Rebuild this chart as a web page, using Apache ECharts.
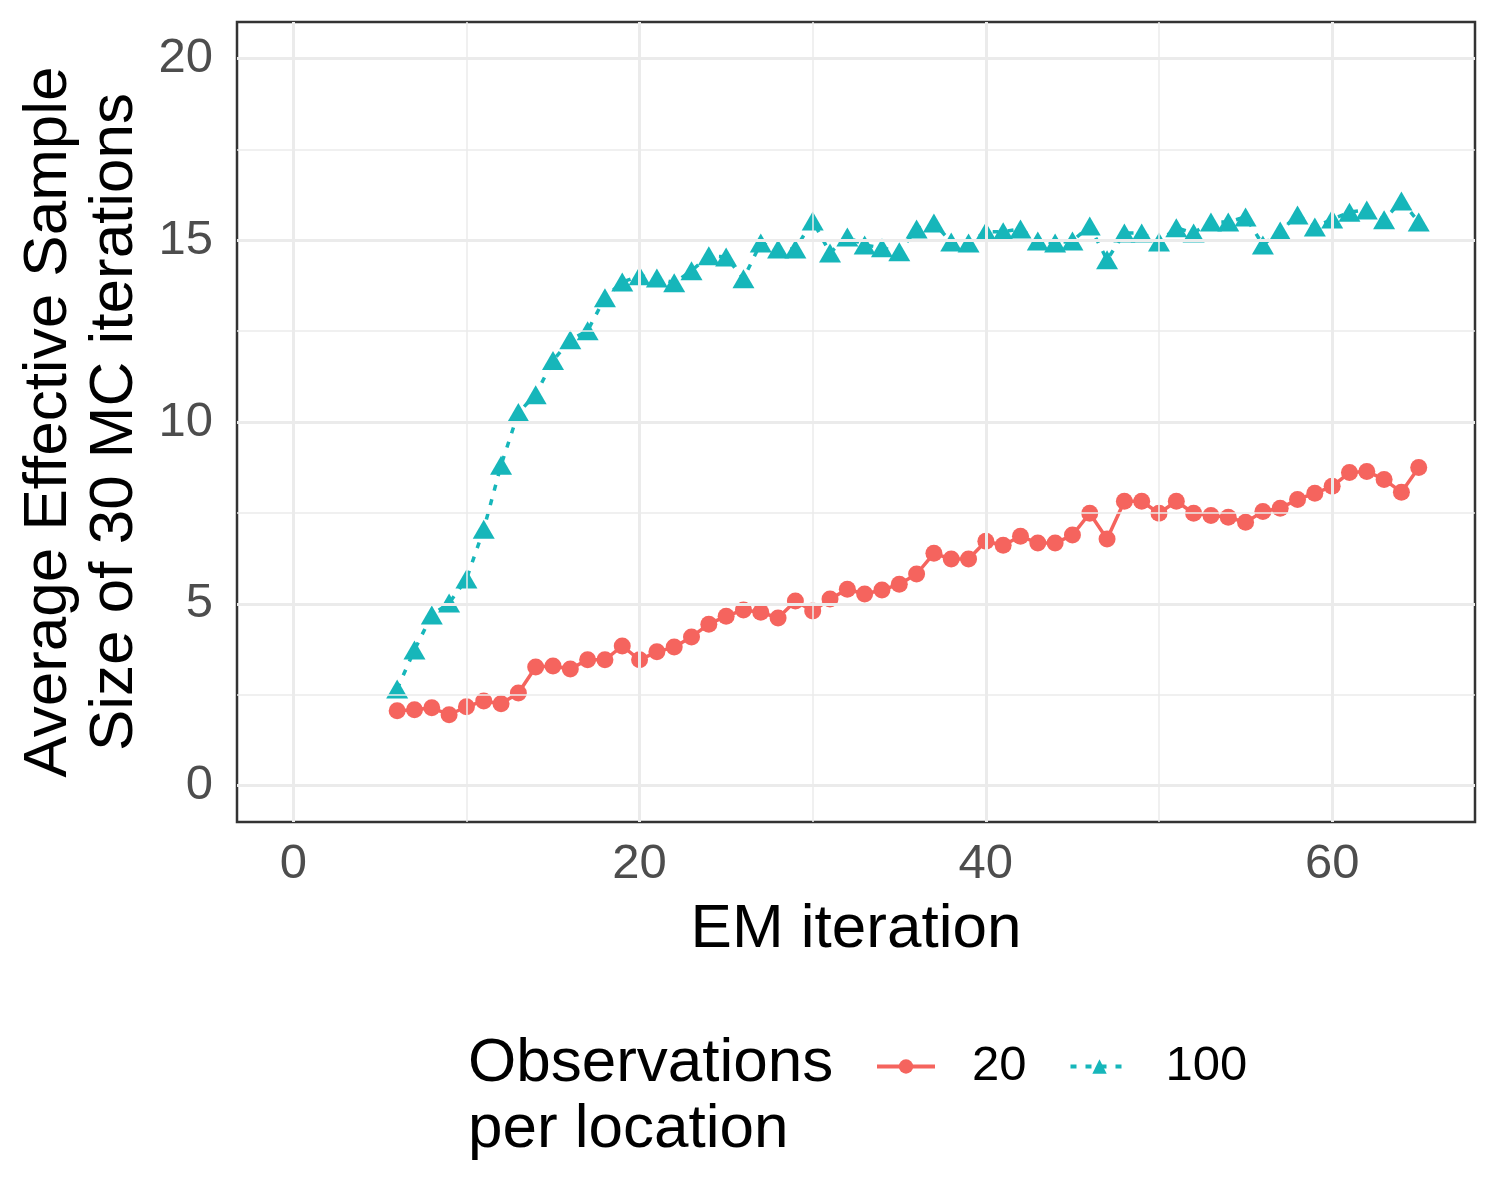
<!DOCTYPE html>
<html>
<head>
<meta charset="utf-8">
<script src="https://cdn.jsdelivr.net/npm/echarts@6/dist/echarts.min.js"></script>
<style>html,body{margin:0;padding:0;background:#fff}#c{width:1500px;height:1200px}</style>
</head>
<body>
<div id="c"></div>
<script>
const iterations = [6,7,8,9,10,11,12,13,14,15,16,17,18,19,20,21,22,23,24,25,26,27,28,29,30,31,32,33,34,35,36,37,38,39,40,41,42,43,44,45,46,47,48,49,50,51,52,53,54,55,56,57,58,59,60,61,62,63,64,65];
const obs20 = [2.06,2.09,2.14,1.95,2.17,2.33,2.25,2.55,3.26,3.29,3.21,3.46,3.46,3.84,3.46,3.68,3.81,4.09,4.44,4.66,4.83,4.77,4.61,5.08,4.80,5.13,5.40,5.27,5.38,5.54,5.82,6.39,6.23,6.23,6.72,6.61,6.86,6.67,6.67,6.89,7.49,6.78,7.82,7.82,7.49,7.82,7.49,7.43,7.38,7.24,7.54,7.63,7.87,8.04,8.23,8.61,8.64,8.42,8.07,8.75];
const obs100 = [2.66,3.73,4.69,5.02,5.68,7.05,8.81,10.26,10.75,11.69,12.26,12.51,13.42,13.85,14.02,13.96,13.83,14.16,14.57,14.54,13.94,14.92,14.76,14.76,15.53,14.65,15.09,14.87,14.79,14.68,15.31,15.47,14.95,14.92,15.23,15.23,15.31,14.98,14.92,14.98,15.39,14.46,15.20,15.20,14.95,15.34,15.20,15.50,15.50,15.64,14.87,15.25,15.69,15.36,15.58,15.77,15.83,15.56,16.08,15.50];
const xTicks = [0,20,40,60];
const xMinor = [10,30,50];
const yTicks = [0,5,10,15,20];
const yMinor = [2.5,7.5,12.5,17.5];

const font = "'Liberation Sans', Arial, sans-serif";
const red = '#F5645E', teal = '#16B6BA', gridCol = '#EBEBEB';

const gridLines = [];
xMinor.forEach(v => gridLines.push({xAxis: v, lineStyle: {color: gridCol, width: 1.5, type: 'solid'}}));
yMinor.forEach(v => gridLines.push({yAxis: v, lineStyle: {color: gridCol, width: 1.5, type: 'solid'}}));
xTicks.forEach(v => gridLines.push({xAxis: v, lineStyle: {color: gridCol, width: 3, type: 'solid'}}));
yTicks.forEach(v => gridLines.push({yAxis: v, lineStyle: {color: gridCol, width: 3, type: 'solid'}}));

const chart = echarts.init(document.getElementById('c'), null, {renderer: 'canvas'});
chart.setOption({
  animation: false,
  backgroundColor: '#fff',
  title: {
    text: 'Observations\nper location',
    left: 463, top: 1026,
    textStyle: {fontFamily: font, fontSize: 62, fontWeight: 'normal', color: '#000', lineHeight: 66}
  },
  legend: {
    left: 870, top: 1037,
    itemWidth: 58, itemHeight: 18, itemGap: 42,
    lineStyle: {width: 4},
    textStyle: {fontFamily: font, fontSize: 49, color: '#000', padding: [0, 0, 0, 32]},
    data: ['20', '100']
  },
  grid: {left: 237, right: 25, top: 22, bottom: 378, show: true, borderColor: '#333', borderWidth: 2.5, backgroundColor: 'transparent'},
  xAxis: {
    type: 'value', min: -3.25, max: 68.25,
    name: 'EM iteration', nameLocation: 'middle', nameGap: 77,
    nameTextStyle: {fontFamily: font, fontSize: 62, color: '#000'},
    axisLine: {show: false},
    axisTick: {show: true, length: 12, lineStyle: {color: '#333', width: 3}, customValues: xTicks},
    axisLabel: {customValues: xTicks, fontFamily: font, fontSize: 49, color: '#4D4D4D', margin: 18},
    splitLine: {show: false}
  },
  yAxis: {
    type: 'value', min: -1, max: 21,
    name: 'Average Effective Sample\nSize of 30 MC iterations', nameLocation: 'middle', nameGap: 87, nameRotate: 90,
    nameTextStyle: {fontFamily: font, fontSize: 62, color: '#000', lineHeight: 66},
    axisLine: {show: false},
    axisTick: {show: true, length: 12, lineStyle: {color: '#333', width: 3}, customValues: yTicks},
    axisLabel: {customValues: yTicks, fontFamily: font, fontSize: 49, color: '#4D4D4D', margin: 24},
    splitLine: {show: false}
  },
  series: [
    {
      name: 'grid', type: 'line', data: [], z: 0, silent: true,
      markLine: {silent: true, symbol: 'none', label: {show: false}, animation: false, data: gridLines}
    },
    {
      name: '20', type: 'line', z: 3,
      data: iterations.map((x, i) => [x, obs20[i]]),
      symbol: 'circle', symbolSize: 17, showSymbol: true,
      lineStyle: {color: red, width: 3.5, type: 'solid'},
      itemStyle: {color: red}
    },
    {
      name: '100', type: 'line', z: 4,
      data: iterations.map((x, i) => [x, obs100[i]]),
      symbol: 'triangle', symbolSize: [22, 19], showSymbol: true,
      lineStyle: {color: teal, width: 3.5, type: [6, 9]},
      itemStyle: {color: teal}
    }
  ]
});
</script>
</body>
</html>
